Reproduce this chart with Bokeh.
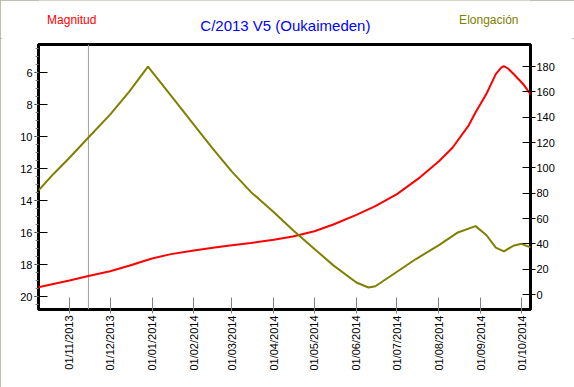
import numpy as np
import pandas as pd
from bokeh.plotting import figure
from bokeh.layouts import column
from bokeh.models import Range1d, LinearAxis, FixedTicker, DatetimeTickFormatter, Span
from bokeh.core.properties import value
from bokeh.embed import file_html
from bokeh.resources import INLINE

# ---- data ----
mag_dates = ["2013-10-09", "2013-10-20", "2013-11-01", "2013-11-15", "2013-12-01", "2013-12-15",
             "2014-01-01", "2014-01-15", "2014-02-01", "2014-02-15", "2014-03-01", "2014-03-15",
             "2014-04-01", "2014-04-15", "2014-05-01", "2014-05-15", "2014-06-01", "2014-06-15",
             "2014-07-01", "2014-07-18", "2014-08-01", "2014-08-11", "2014-08-23", "2014-08-28",
             "2014-09-05", "2014-09-12", "2014-09-16", "2014-09-18", "2014-09-21", "2014-09-25",
             "2014-10-02", "2014-10-08"]
magnitudes = [19.42, 19.22, 19.0, 18.72, 18.42, 18.08,
              17.62, 17.35, 17.12, 16.95, 16.8, 16.65,
              16.45, 16.25, 15.92, 15.5, 14.9, 14.35,
              13.6, 12.55, 11.55, 10.7, 9.3, 8.5,
              7.35, 6.1, 5.7, 5.6, 5.75, 6.08,
              6.7, 7.4]

elong_dates = ["2013-10-09", "2013-10-20", "2013-11-01", "2013-11-15", "2013-12-01", "2013-12-15",
               "2013-12-29", "2014-01-15", "2014-02-01", "2014-02-15", "2014-03-01", "2014-03-15",
               "2014-04-01", "2014-04-15", "2014-05-01", "2014-05-15", "2014-06-01", "2014-06-10",
               "2014-06-15", "2014-07-01", "2014-07-15", "2014-08-01", "2014-08-15", "2014-08-28",
               "2014-09-05", "2014-09-12", "2014-09-18", "2014-09-25", "2014-10-01", "2014-10-08"]
elongations = [82, 95, 108, 124, 142, 160,
               180, 157, 134, 115, 97, 81,
               65, 51, 36, 23, 9.5, 5.5,
               6.5, 18, 28, 39, 49, 54,
               47, 37, 34, 38.5, 40, 37]

month_ticks = ["2013-11-01", "2013-12-01", "2014-01-01", "2014-02-01", "2014-03-01", "2014-04-01",
               "2014-05-01", "2014-06-01", "2014-07-01", "2014-08-01", "2014-09-01", "2014-10-01"]
marker_date = "2013-11-15"
mag_ticks = [6, 8, 10, 12, 14, 16, 18, 20]
mag_minor_ticks = [x / 2 for x in range(9, 42)]
elong_ticks = [0, 20, 40, 60, 80, 100, 120, 140, 160, 180]

x_start = "2013-10-09 02:24"
x_end = "2014-10-07 15:30"
mag_top, mag_bottom = 4.25, 20.81
elong_bottom, elong_top = -11.84, 197.4

title_text = "C/2013 V5 (Oukaimeden)"
left_label = "Magnitud"
right_label = "Elongación"

FONT = "Liberation Sans"
W = 574
HEAD_H = 38
MAIN_H = 387 - HEAD_H


def to_ms(lst):
    return list(pd.to_datetime(lst).astype("int64") // 10**6)


# ---- header (titles) ----
head = figure(width=W, height=HEAD_H, output_backend="svg", toolbar_location=None,
              x_range=Range1d(0, W), y_range=Range1d(HEAD_H, 0),
              x_axis_location=None, y_axis_location=None,
              min_border_left=0, min_border_right=0, min_border_top=0, min_border_bottom=0)
head.outline_line_color = None
head.xgrid.visible = False
head.ygrid.visible = False
head.background_fill_color = "white"
head.border_fill_color = "white"
head.text(x=[288], y=[25], text=[title_text], text_font=value(FONT), text_font_size=value("15px"),
          text_color="#0000FF", text_align="center", text_baseline="middle")
head.text(x=[10], y=[19], text=[left_label], text_font=value(FONT), text_font_size=value("12px"),
          text_color="#FF0000", text_align="left", text_baseline="middle")
head.text(x=[560], y=[19], text=[right_label], text_font=value(FONT), text_font_size=value("12px"),
          text_color="#808000", text_align="right", text_baseline="middle")

# ---- main chart ----
p = figure(width=W, height=MAIN_H, output_backend="svg", toolbar_location=None,
           x_axis_type="datetime",
           x_range=Range1d(pd.Timestamp(x_start), pd.Timestamp(x_end)),
           y_range=Range1d(mag_bottom, mag_top),
           min_border_left=38, min_border_right=44, min_border_top=6, min_border_bottom=78)
p.background_fill_color = "white"
p.border_fill_color = "white"
p.outline_line_color = "black"
p.outline_line_width = 3
p.xgrid.visible = False
p.ygrid.visible = False

p.extra_y_ranges = {"elong": Range1d(elong_bottom, elong_top)}

# x axis
xa = p.xaxis[0]
xa.ticker = FixedTicker(ticks=to_ms(month_ticks))
fmt = "%d/%m/%Y"
xa.formatter = DatetimeTickFormatter(milliseconds=fmt, seconds=fmt, minsec=fmt, minutes=fmt,
                                     hourmin=fmt, hours=fmt, days=fmt, months=fmt, years=fmt)
xa.major_label_orientation = np.pi / 2
xa.axis_line_color = None
xa.major_tick_line_color = "#808080"
xa.major_tick_in = 12
xa.major_tick_out = 4
xa.minor_tick_line_color = None
xa.major_label_standoff = 2
xa.major_label_text_font = FONT
xa.major_label_text_font_size = "11px"
xa.major_label_text_color = "black"

# left axis (magnitude)
ya = p.yaxis[0]
ya.ticker = FixedTicker(ticks=mag_ticks, minor_ticks=mag_minor_ticks)
ya.axis_line_color = None
ya.major_tick_line_color = "black"
ya.major_tick_in = 9
ya.major_tick_out = 4
ya.minor_tick_line_color = "#808080"
ya.minor_tick_in = 0
ya.minor_tick_out = 3
ya.major_label_standoff = 2
ya.major_label_text_font = FONT
ya.major_label_text_font_size = "11px"
ya.major_label_text_color = "black"

# right axis (elongation)
ra = LinearAxis(y_range_name="elong", ticker=FixedTicker(ticks=elong_ticks))
ra.axis_line_color = None
ra.major_tick_line_color = "black"
ra.major_tick_in = 8
ra.major_tick_out = 5
ra.minor_tick_line_color = None
ra.major_label_standoff = 1
ra.major_label_text_font = FONT
ra.major_label_text_font_size = "11px"
ra.major_label_text_color = "black"
p.add_layout(ra, "right")

# current-date marker
p.add_layout(Span(location=pd.Timestamp(marker_date).value // 10**6, dimension="height",
                  line_color="#A0A0A0", line_width=1, level="underlay"))

p.line(pd.to_datetime(mag_dates), magnitudes, line_color="#FF0000", line_width=2)
p.line(pd.to_datetime(elong_dates), elongations, line_color="#808000", line_width=2,
       y_range_name="elong")

layout = column(head, p, spacing=0,
                styles={"outline": "2px solid #ACA899", "outline-offset": "-2px"})
open("out.html", "w").write(file_html(layout, INLINE))
